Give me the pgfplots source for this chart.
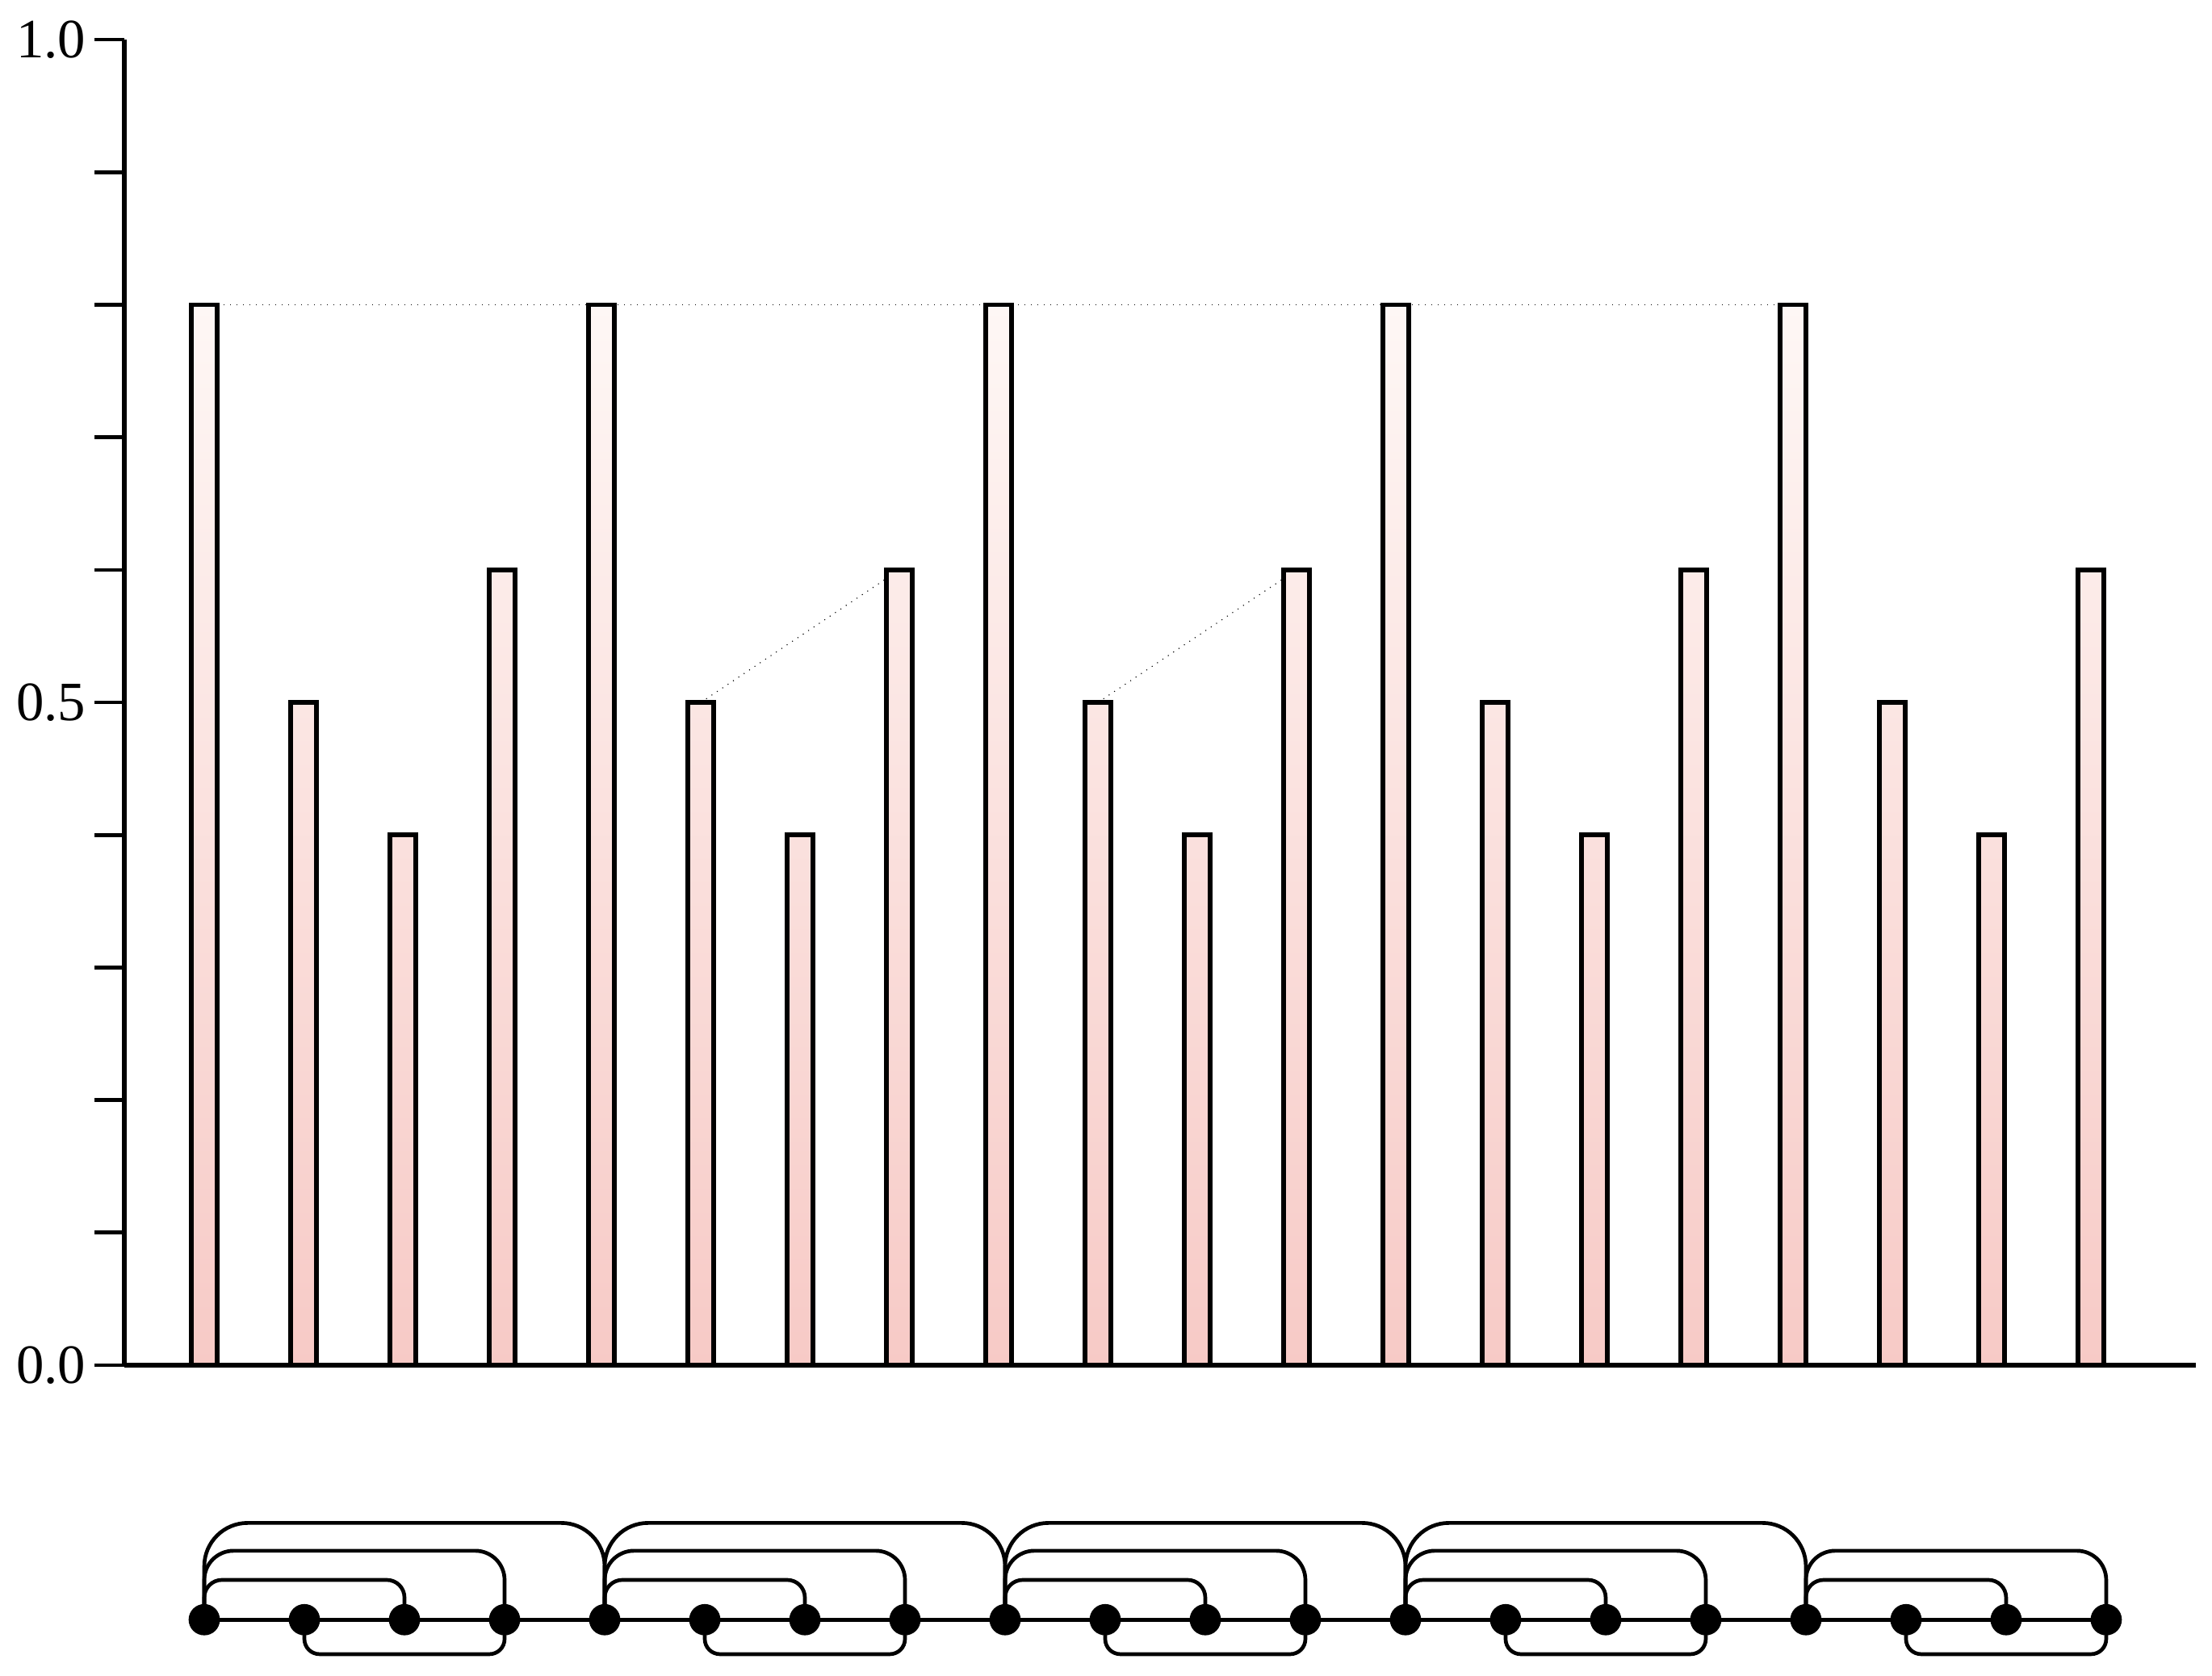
\documentclass[border=0pt]{standalone}
\usepackage{fontspec}
\setmainfont{Liberation Serif}
\usepackage{pgfplots}
\pgfplotsset{compat=1.18}

\definecolor{bartop}{RGB}{254,247,245}
\definecolor{barbot}{RGB}{247,202,198}

\begin{document}
\begin{tikzpicture}
\useasboundingbox (-24.64pt,-61.44pt) rectangle (413.76pt,270.56pt);
\begin{axis}[
  at={(0,0)}, anchor=south west,
  width=410.6pt, height=262.7pt, scale only axis,
  xmin=-0.805, xmax=20.057,
  ymin=0, ymax=1,
  axis y line*=left, axis x line*=bottom,
  axis line style={line width=0.9pt, black},
  xtick=\empty,
  ytick={0,0.1,0.2,0.3,0.4,0.5,0.6,0.7,0.8,0.9,1.0},
  yticklabels={0.0,,,,,0.5,,,,,1.0},
  tick align=outside, ytick pos=left,
  major tick length=5.9pt,
  tick style={line width=0.75pt, black},
  yticklabel style={font=\fontsize{11}{13}\selectfont, xshift=1.8pt},
  /pgf/number format/assume math mode=true,
  clip=false,
]
% dotted guide lines behind the bars
\addplot[black, line width=0.18pt, dash pattern=on 0.18pt off 1.1pt]
  coordinates {(0,0.8) (16,0.8)};
\addplot[black, line width=0.18pt, dash pattern=on 0.18pt off 1.1pt]
  coordinates {(5,0.5) (7,0.6)};
\addplot[black, line width=0.18pt, dash pattern=on 0.18pt off 1.1pt]
  coordinates {(9,0.5) (11,0.6)};

% bars
\addplot[ybar, bar width=5.1pt, bar shift=0pt, draw=black, line width=0.95pt,
  top color=bartop, bottom color=barbot]
  coordinates {
    (0,0.8) (1,0.5) (2,0.4) (3,0.6)
    (4,0.8) (5,0.5) (6,0.4) (7,0.6)
    (8,0.8) (9,0.5) (10,0.4) (11,0.6)
    (12,0.8) (13,0.5) (14,0.4) (15,0.6)
    (16,0.8) (17,0.5) (18,0.4) (19,0.6)
  };

% connection diagram under the axis
\pgfplotsset{arc/.style={black, line width=0.75pt}}
\addplot[arc] coordinates {(0,-0.192) (19.152,-0.192)};
% group 1
\addplot[arc, rounded corners=3.5pt] coordinates {(0,-0.192) (0,-0.162) (2.016,-0.162) (2.016,-0.192)};
\addplot[arc, rounded corners=5.8pt] coordinates {(0,-0.192) (0,-0.140) (3.024,-0.140) (3.024,-0.192)};
\addplot[arc, rounded corners=8.6pt] coordinates {(0,-0.192) (0,-0.119) (4.032,-0.119) (4.032,-0.192)};
\addplot[arc, rounded corners=3pt] coordinates {(1.008,-0.192) (1.008,-0.218) (3.024,-0.218) (3.024,-0.192)};
% group 2
\addplot[arc, rounded corners=3.5pt] coordinates {(4.032,-0.192) (4.032,-0.162) (6.048,-0.162) (6.048,-0.192)};
\addplot[arc, rounded corners=5.8pt] coordinates {(4.032,-0.192) (4.032,-0.140) (7.056,-0.140) (7.056,-0.192)};
\addplot[arc, rounded corners=8.6pt] coordinates {(4.032,-0.192) (4.032,-0.119) (8.064,-0.119) (8.064,-0.192)};
\addplot[arc, rounded corners=3pt] coordinates {(5.040,-0.192) (5.040,-0.218) (7.056,-0.218) (7.056,-0.192)};
% group 3
\addplot[arc, rounded corners=3.5pt] coordinates {(8.064,-0.192) (8.064,-0.162) (10.080,-0.162) (10.080,-0.192)};
\addplot[arc, rounded corners=5.8pt] coordinates {(8.064,-0.192) (8.064,-0.140) (11.088,-0.140) (11.088,-0.192)};
\addplot[arc, rounded corners=8.6pt] coordinates {(8.064,-0.192) (8.064,-0.119) (12.096,-0.119) (12.096,-0.192)};
\addplot[arc, rounded corners=3pt] coordinates {(9.072,-0.192) (9.072,-0.218) (11.088,-0.218) (11.088,-0.192)};
% group 4
\addplot[arc, rounded corners=3.5pt] coordinates {(12.096,-0.192) (12.096,-0.162) (14.112,-0.162) (14.112,-0.192)};
\addplot[arc, rounded corners=5.8pt] coordinates {(12.096,-0.192) (12.096,-0.140) (15.120,-0.140) (15.120,-0.192)};
\addplot[arc, rounded corners=8.6pt] coordinates {(12.096,-0.192) (12.096,-0.119) (16.128,-0.119) (16.128,-0.192)};
\addplot[arc, rounded corners=3pt] coordinates {(13.104,-0.192) (13.104,-0.218) (15.120,-0.218) (15.120,-0.192)};
% group 5
\addplot[arc, rounded corners=3.5pt] coordinates {(16.128,-0.192) (16.128,-0.162) (18.144,-0.162) (18.144,-0.192)};
\addplot[arc, rounded corners=5.8pt] coordinates {(16.128,-0.192) (16.128,-0.140) (19.152,-0.140) (19.152,-0.192)};
\addplot[arc, rounded corners=3pt] coordinates {(17.136,-0.192) (17.136,-0.218) (19.152,-0.218) (19.152,-0.192)};

% nodes
\addplot[only marks, mark=*, mark size=2.9pt, black]
  coordinates {
    (0,-0.192) (1.008,-0.192) (2.016,-0.192) (3.024,-0.192)
    (4.032,-0.192) (5.040,-0.192) (6.048,-0.192) (7.056,-0.192)
    (8.064,-0.192) (9.072,-0.192) (10.080,-0.192) (11.088,-0.192)
    (12.096,-0.192) (13.104,-0.192) (14.112,-0.192) (15.120,-0.192)
    (16.128,-0.192) (17.136,-0.192) (18.144,-0.192) (19.152,-0.192)
  };
\end{axis}
\end{tikzpicture}
\end{document}
